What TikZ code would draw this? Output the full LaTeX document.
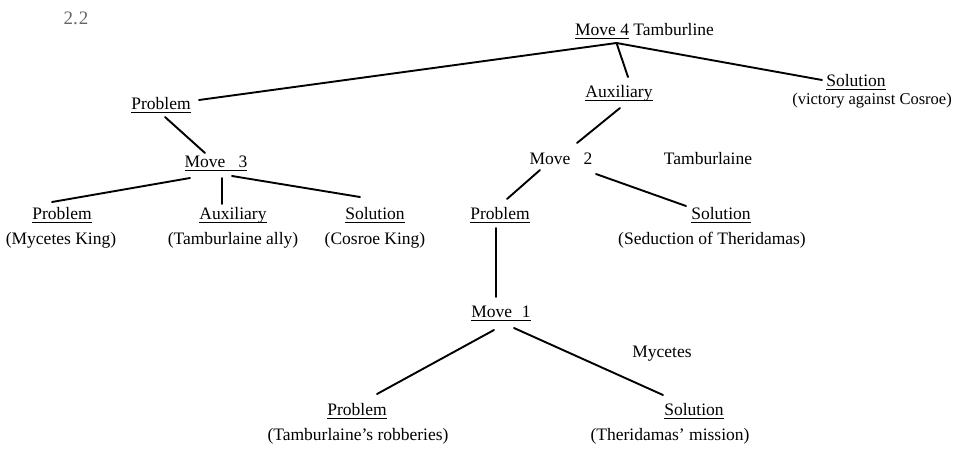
\documentclass[tikz,border=0pt]{standalone}
\usepackage{fontspec}
\setmainfont{Liberation Serif}
\newcommand\myul[1]{\setbox0\hbox{#1}\leavevmode\rlap{\vrule height -2.8pt depth 4.4pt width \wd0}\box0\relax}
\begin{document}
\begin{tikzpicture}[x=1pt,y=-1pt,
  lbl/.style={font=\fontsize{17.5}{20}\selectfont, inner sep=0pt, anchor=base},
  conn/.style={line width=1.9pt, line cap=round}]
\useasboundingbox (0,0) rectangle (964,453);
% labels
\node[lbl, text=black!60, font=\fontsize{19}{22}\selectfont] (t22) at (76,24) {2.\kern1pt2};
\node[lbl] (m4) at (644.5,35) {\myul{Move 4} Tamburline};
\node[lbl] (p4) at (161,109) {\myul{Problem}};
\node[lbl] (a4) at (619,97) {\myul{Auxiliary}};
\node[lbl] (s4) at (856,86) {\myul{Solution}};
\node[lbl, font=\fontsize{16.5}{20}\selectfont] (v4) at (872,104) {(victory against Cosroe)};
\node[lbl] (m3) at (216,167) {\myul{Move\hspace{0.5em} 3}};
\node[lbl] (p3) at (62,219) {\myul{Problem}};
\node[lbl] (k3) at (61,244) {(Mycetes King)};
\node[lbl] (a3) at (233,219) {\myul{Auxiliary}};
\node[lbl] (t3) at (233,244) {(Tamburlaine ally)};
\node[lbl] (s3) at (375,219) {\myul{Solution}};
\node[lbl] (c3) at (375,244) {(Cosroe King)};
\node[lbl] (m2) at (561,164) {Move\hspace{0.5em} 2};
\node[lbl] (tam) at (708,164) {Tamburlaine};
\node[lbl] (p2) at (500,219) {\myul{Problem}};
\node[lbl] (s2) at (721,219) {\myul{Solution}};
\node[lbl] (d2) at (712,244) {(Seduction of Theridamas)};
\node[lbl] (m1) at (501,317) {\myul{Move\hspace{0.3em} 1}};
\node[lbl] (myc) at (662,357) {Mycetes};
\node[lbl] (p1) at (357,415) {\myul{Problem}};
\node[lbl] (r1) at (358,440) {(Tamburlaine's robberies)};
\node[lbl] (s1) at (694,415) {\myul{Solution}};
\node[lbl] (n1) at (670,440) {(Theridamas' mission)};
% junction under Move 4
\coordinate (m4j) at ([xshift=-28pt,yshift=-8pt]m4.base);
% connectors
\draw[conn] (m4j) -- ([xshift=38pt,yshift=9pt]p4.base);
\draw[conn] (m4j) -- ([xshift=9pt,yshift=20pt]a4.base);
\draw[conn] (m4j) -- ([xshift=-34pt,yshift=6pt]s4.base);
\draw[conn] ([xshift=4pt,yshift=-8pt]p4.base) -- ([xshift=-11pt,yshift=14pt]m3.base);
\draw[conn] ([xshift=-26pt,yshift=-11pt]m3.base) -- ([xshift=-10pt,yshift=17pt]p3.base);
\draw[conn] ([xshift=6pt,yshift=-11pt]m3.base) -- ([xshift=-11pt,yshift=15pt]a3.base);
\draw[conn] ([xshift=16pt,yshift=-9pt]m3.base) -- ([xshift=-15pt,yshift=22pt]s3.base);
\draw[conn] ([xshift=1pt,yshift=-11pt]a4.base) -- ([xshift=16pt,yshift=21pt]m2.base);
\draw[conn] ([xshift=-21pt,yshift=-6pt]m2.base) -- ([xshift=7pt,yshift=20pt]p2.base);
\draw[conn] ([xshift=35pt,yshift=-10pt]m2.base) -- ([xshift=-35pt,yshift=13pt]s2.base);
\draw[conn] ([xshift=-4pt,yshift=-9pt]p2.base) -- ([xshift=-5pt,yshift=20pt]m1.base);
\draw[conn] ([xshift=-7pt,yshift=-13pt]m1.base) -- ([xshift=20pt,yshift=21pt]p1.base);
\draw[conn] ([xshift=13pt,yshift=-11pt]m1.base) -- ([xshift=-31pt,yshift=20pt]s1.base);
\end{tikzpicture}
\end{document}
